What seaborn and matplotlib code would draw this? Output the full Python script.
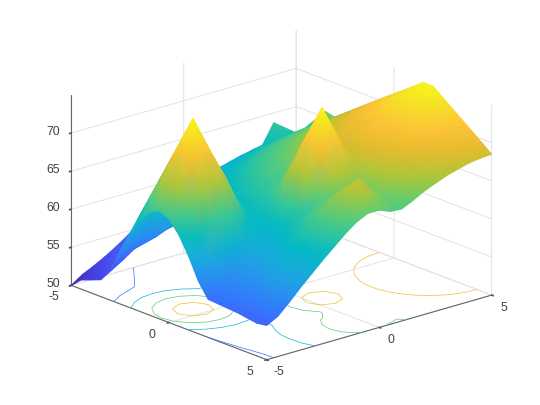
import numpy as np
import matplotlib
matplotlib.use('Agg')
import matplotlib.pyplot as plt
import seaborn as sns
from mpl_toolkits.mplot3d import proj3d

# grid axes
x_vals = [-5.0, -4.5, -4.0, -3.5, -3.0, -2.5, -2.0, -1.5, -1.0, -0.5, 0.0, 0.5, 1.0, 1.5, 2.0, 2.5, 3.0, 3.5, 4.0, 4.5, 5.0]
y_vals = [-5.0, -4.5, -4.0, -3.5, -3.0, -2.5, -2.0, -1.5, -1.0, -0.5, 0.0, 0.5, 1.0, 1.5, 2.0, 2.5, 3.0, 3.5, 4.0, 4.5, 5.0]

# height, one row per y value
z_rows = [
    [50.0, 51.2, 51.7, 52.2, 54.0, 56.9, 59.7, 62.0, 63.6, 64.2, 63.6, 62.0, 59.7, 56.9, 55.0, 54.9, 54.8, 54.7, 54.5, 54.3, 54.5],
    [51.0, 51.8, 52.4, 53.1, 55.6, 58.9, 62.0, 64.8, 67.0, 67.8, 67.0, 64.8, 62.0, 58.9, 56.0, 55.9, 55.8, 55.7, 55.6, 55.5, 55.3],
    [51.7, 52.5, 53.2, 54.0, 56.6, 60.2, 63.6, 67.0, 69.9, 71.4, 69.9, 67.0, 63.6, 60.2, 57.0, 56.9, 56.8, 57.0, 57.1, 57.0, 56.7],
    [52.5, 53.3, 54.2, 55.0, 57.0, 60.6, 64.2, 67.8, 71.4, 75.0, 71.4, 67.8, 64.2, 60.6, 58.0, 57.9, 58.2, 58.5, 58.6, 58.5, 58.2],
    [53.4, 54.3, 55.1, 55.9, 56.6, 60.2, 63.6, 67.0, 69.9, 71.4, 69.9, 67.0, 63.6, 60.2, 59.0, 59.0, 59.6, 60.0, 60.1, 60.0, 59.6],
    [54.4, 55.3, 56.1, 56.7, 57.2, 58.9, 62.0, 64.8, 67.0, 67.8, 67.0, 64.8, 62.0, 60.0, 60.0, 60.2, 61.0, 61.4, 61.6, 61.4, 61.0],
    [55.6, 56.2, 56.9, 57.5, 58.1, 58.6, 59.7, 62.0, 63.6, 64.2, 63.6, 62.0, 60.9, 61.0, 61.0, 61.5, 62.3, 62.9, 63.1, 62.9, 62.3],
    [56.3, 57.0, 57.6, 58.3, 58.9, 59.5, 60.0, 60.5, 60.9, 61.2, 61.5, 61.8, 61.9, 62.0, 62.0, 62.6, 63.6, 64.3, 64.6, 64.3, 63.6],
    [56.9, 57.7, 58.4, 59.1, 59.7, 60.3, 60.8, 61.4, 61.8, 62.2, 62.5, 62.7, 63.6, 64.2, 63.6, 63.4, 64.7, 65.7, 66.1, 65.7, 64.7],
    [57.6, 58.3, 59.1, 59.8, 60.5, 61.1, 61.7, 62.2, 62.7, 63.1, 63.5, 64.8, 67.0, 67.8, 67.0, 64.8, 65.4, 66.8, 67.6, 66.8, 65.4],
    [58.2, 59.0, 59.8, 60.5, 61.2, 61.9, 62.5, 63.1, 63.6, 64.0, 64.4, 67.0, 69.9, 71.4, 69.9, 67.0, 65.4, 66.9, 68.5, 66.9, 65.4],
    [58.8, 59.6, 60.4, 61.2, 61.9, 62.6, 63.3, 63.9, 64.5, 64.9, 65.3, 67.8, 71.4, 75.0, 71.4, 67.8, 65.7, 65.9, 66.4, 65.9, 64.8],
    [59.3, 60.2, 61.0, 61.8, 62.6, 63.3, 64.0, 64.7, 65.3, 65.8, 66.3, 67.0, 69.9, 71.4, 69.9, 67.0, 66.6, 66.3, 65.8, 65.3, 64.7],
    [59.8, 60.7, 61.5, 62.4, 63.2, 64.0, 64.7, 65.4, 66.1, 66.7, 67.2, 67.6, 67.8, 68.0, 68.0, 67.8, 67.6, 67.2, 66.7, 66.1, 65.4],
    [60.2, 61.1, 62.0, 62.9, 63.8, 64.6, 65.4, 66.2, 66.9, 67.5, 68.1, 68.5, 68.8, 69.0, 69.0, 68.8, 68.5, 68.1, 67.5, 66.9, 66.2],
    [60.6, 61.5, 62.5, 63.4, 64.3, 65.1, 66.0, 66.8, 67.6, 68.3, 68.9, 69.4, 69.8, 70.0, 70.0, 69.8, 69.4, 68.9, 68.3, 67.6, 66.8],
    [60.9, 61.9, 62.8, 63.8, 64.7, 65.6, 66.5, 67.4, 68.2, 69.0, 69.7, 70.3, 70.7, 71.0, 71.0, 70.7, 70.3, 69.7, 69.0, 68.2, 67.4],
    [61.2, 62.1, 63.1, 64.1, 65.0, 66.0, 66.9, 67.8, 68.7, 69.6, 70.4, 71.1, 71.6, 72.0, 72.0, 71.6, 71.1, 70.4, 69.6, 68.7, 67.8],
    [63.7, 62.3, 63.3, 64.3, 65.3, 66.3, 67.2, 68.2, 69.1, 70.1, 71.0, 71.8, 72.5, 72.9, 72.9, 72.5, 71.8, 71.0, 70.1, 69.1, 68.2],
    [61.5, 62.5, 63.5, 64.5, 65.4, 66.4, 67.4, 68.4, 69.4, 70.4, 71.4, 72.3, 73.2, 73.9, 73.9, 73.2, 72.3, 71.4, 70.4, 69.4, 68.4],
    [61.5, 62.5, 63.5, 65.8, 65.5, 66.5, 67.5, 68.5, 69.5, 70.5, 71.5, 72.5, 73.5, 74.5, 74.5, 73.5, 72.5, 71.5, 70.5, 69.5, 68.5],
]

contour_levels = [55, 60, 65, 70]
xy_ticks = [-5, 0, 5]
z_ticks = [50, 55, 60, 65, 70]

# parula-like colours
parula_colors = [(0.2422, 0.1504, 0.6603), (0.2783, 0.2559, 0.8991), (0.2760, 0.3667, 0.9829),
                 (0.1963, 0.4847, 0.9892), (0.1540, 0.5902, 0.9218), (0.0952, 0.6798, 0.8598),
                 (0.0067, 0.7312, 0.7660), (0.1938, 0.7758, 0.6251), (0.3909, 0.8029, 0.4354),
                 (0.6720, 0.7793, 0.2227), (0.9035, 0.7330, 0.1774), (0.9970, 0.7659, 0.2199),
                 (0.9610, 0.8890, 0.1537), (0.9769, 0.9839, 0.0805)]

sns.set_theme(style='white')
plt.rcParams['font.family'] = ['Liberation Sans', 'DejaVu Sans']
plt.rcParams['axes.unicode_minus'] = False
parula = sns.blend_palette(parula_colors, as_cmap=True)

X, Y = np.meshgrid(x_vals, y_vals)
Z = np.array(z_rows)

fig = plt.figure(figsize=(5.4, 4.05), dpi=100)
ax = fig.add_axes([6 / 540, 2 / 405, 1, 1], projection='3d')
ax.computed_zorder = False
ax.set_proj_type('ortho')
ax.view_init(elev=19.3, azim=-41)
ax.set_box_aspect((1, 1, 0.677), zoom=1.12)
ax.patch.set_alpha(0)

ax.contour(X, Y, Z, levels=contour_levels, zdir='z', offset=50, cmap=parula,
           vmin=50, vmax=75, linewidths=0.5, zorder=1)

ax.set_xlim(-5, 5)
ax.set_ylim(-5, 5)
ax.set_zlim(50, 75)
ax.set_xticks(xy_ticks)
ax.set_yticks(xy_ticks)
ax.set_zticks(z_ticks)
ax.set_xticklabels([])
ax.set_yticklabels([])
ax.set_zticklabels([])

for axis in (ax.xaxis, ax.yaxis, ax.zaxis):
    axis.set_pane_color((1, 1, 1, 0))
    axis.pane.set_edgecolor((1, 1, 1, 0))
    axis.line.set_color('#666666')
    axis.line.set_linewidth(0.8)
    axis._axinfo['grid'].update(color='#e2e2e2', linewidth=0.7)
    axis._axinfo['tick'].update(inward_factor=0.1, outward_factor=0.0)
ax.zaxis.set_ticks_position('lower')
ax.tick_params(colors='#555555')

# same pixels as the 3d axes, the surface goes here with gouraud shading
ax.apply_aspect()
proj = ax.get_proj()
over = fig.add_axes([0, 0, 1, 1])
over.set_xlim(0, 540)
over.set_ylim(0, 405)
over.axis('off')
over.patch.set_alpha(0)


def to_pixels(xs, ys, zs):
    """3d axes coordinates to pixels, also gives the depth"""
    px, py, depth = proj3d.proj_transform(np.asarray(xs, float), np.asarray(ys, float), np.asarray(zs, float), proj)
    pts = ax.transData.transform(np.column_stack([px, py]))
    return pts[:, 0], pts[:, 1], depth


sx, sy, depth = to_pixels(X.ravel(), Y.ravel(), Z.ravel())
z_flat = Z.ravel()
n_y, n_x = Z.shape

# curvature at each node, valleys are positive and ridges negative
padded = np.pad(Z, 1, mode='edge')
curve = padded[:-2, 1:-1] + padded[2:, 1:-1] + padded[1:-1, :-2] + padded[1:-1, 2:] - 4 * Z
curve_flat = curve.ravel()

triangles = []
for j in range(n_y - 1):
    for i in range(n_x - 1):
        a, b, c, d = j * n_x + i, j * n_x + i + 1, (j + 1) * n_x + i + 1, (j + 1) * n_x + i
        high_first = z_flat[a] + z_flat[c] >= z_flat[b] + z_flat[d]
        # cut along the higher diagonal on ridges, the lower one in valleys
        if curve_flat[[a, b, c, d]].mean() > 0:
            high_first = not high_first
        if high_first:
            triangles += [[a, b, c], [a, c, d]]
        else:
            triangles += [[a, b, d], [b, c, d]]
triangles = np.array(triangles)
# far triangles first
triangles = triangles[np.argsort(-depth[triangles].mean(axis=1))]
over.tripcolor(sx, sy, triangles, z_flat, shading='gouraud', cmap=parula, vmin=50, vmax=75)

# tick labels
label_style = dict(textcoords='offset pixels', color='#404040', fontsize=8.7, va='center', annotation_clip=False)
for t in xy_ticks:
    px, py, _ = to_pixels([t], [-5], [50])
    over.annotate(str(t), (px[0], py[0]), xytext=(-17, -12), ha='center', **label_style)
    px, py, _ = to_pixels([5], [t], [50])
    over.annotate(str(t), (px[0], py[0]), xytext=(12, -12.5), ha='center', **label_style)
for t in z_ticks:
    px, py, _ = to_pixels([-5], [-5], [t])
    over.annotate(str(t), (px[0], py[0]), xytext=(-11.5, 1.5), ha='right', **label_style)

fig.savefig('out.png', dpi=100)
